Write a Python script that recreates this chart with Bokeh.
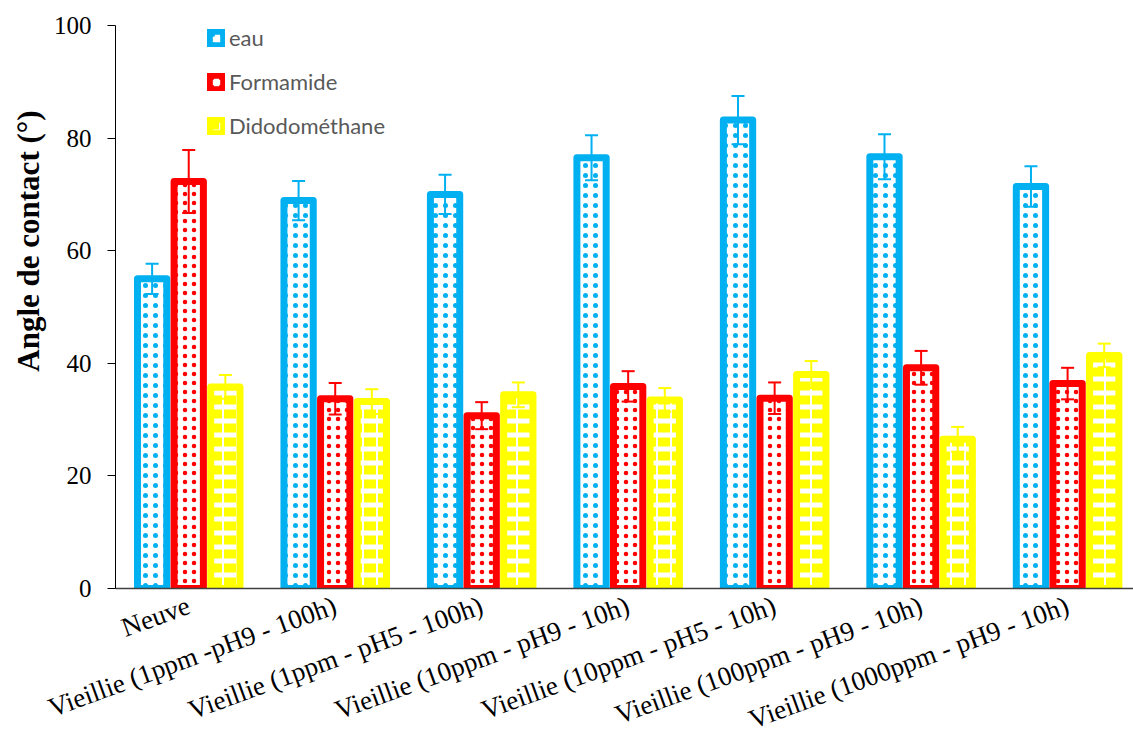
import numpy as np
from bokeh.plotting import figure
from bokeh.models import (ColumnDataSource, Range1d, FixedTicker, Whisker, TeeHead,
                          Legend, LegendItem, Title)
from bokeh.embed import file_html
from bokeh.resources import INLINE

categories = ["Neuve", "Vieillie (1ppm -pH9 - 100h)", "Vieillie (1ppm - pH5 - 100h)",
              "Vieillie (10ppm - pH9 - 10h)", "Vieillie (10ppm - pH5 - 10h)",
              "Vieillie (100ppm - pH9 - 10h)", "Vieillie (1000ppm - pH9 - 10h)"]
series_names = ["eau", "Formamide", "Didodométhane"]
eau = [55.0, 68.9, 70.0, 76.5, 83.2, 76.7, 71.4]
eau_err = [2.7, 3.5, 3.5, 4.0, 4.3, 4.0, 3.6]
formamide = [72.3, 33.7, 30.7, 35.9, 33.8, 39.2, 36.4]
formamide_err = [5.6, 2.8, 2.4, 2.7, 2.8, 3.0, 2.8]
diiodo = [35.8, 33.2, 34.4, 33.5, 38.0, 26.5, 41.4]
diiodo_err = [2.1, 2.2, 2.2, 2.1, 2.4, 2.2, 2.1]
y_ticks = [0, 20, 40, 60, 80, 100]

colors = ["#00B0F0", "#FF0000", "#FFFF00"]
values = [eau, formamide, diiodo]
errors = [eau_err, formamide_err, diiodo_err]
offsets = [-0.25, 0.0, 0.25]

p = figure(width=1133, height=751, output_backend="svg", toolbar_location=None,
           x_range=Range1d(-0.5, 6.45), y_range=Range1d(0, 100),
           min_border_left=115, min_border_right=0, min_border_top=25, min_border_bottom=161)
p.outline_line_color = None
p.xgrid.grid_line_color = None
p.ygrid.grid_line_color = None
p.background_fill_color = "white"

hatch_kw = [
    dict(hatch_pattern="dot", hatch_scale=10, hatch_weight=6),
    dict(hatch_pattern="dot", hatch_scale=9, hatch_weight=1.2),
    dict(hatch_pattern="horizontal_dash", hatch_scale=14, hatch_weight=9),
]

idx = np.arange(len(categories))
legend_items = []
for k in range(3):
    src = ColumnDataSource(dict(x=idx + offsets[k], top=values[k],
                                upper=np.array(values[k]) + np.array(errors[k]),
                                lower=np.array(values[k]) - np.array(errors[k])))
    r = p.vbar(x="x", top="top", bottom=0, width=0.2, source=src,
               fill_color="white", line_color=colors[k], line_width=7, line_join="round",
               hatch_color=colors[k], **hatch_kw[k])
    w = Whisker(source=src, base="x", upper="upper", lower="lower",
                line_color=colors[k], line_width=2, level="annotation",
                upper_head=TeeHead(size=13, line_color=colors[k], line_width=2),
                lower_head=TeeHead(size=13, line_color=colors[k], line_width=2))
    p.add_layout(w)
    legend_items.append(LegendItem(label=series_names[k], renderers=[r]))

legend = Legend(items=legend_items, location=(92, 449), orientation="vertical",
                glyph_width=18, glyph_height=18, label_height=27, spacing=17,
                label_standoff=4, padding=0, margin=0,
                label_text_font="Lato", label_text_font_size="22px",
                label_text_color="#595959",
                border_line_color=None, background_fill_alpha=0)
p.add_layout(legend, "center")

# axes
p.xaxis.ticker = FixedTicker(ticks=list(idx))
p.xaxis.major_label_overrides = {int(i): c for i, c in zip(idx, categories)}
p.xaxis.major_label_orientation = 0.35
p.xaxis.major_label_text_font = "Liberation Serif"
p.xaxis.major_label_text_font_size = "27px"
p.xaxis.major_label_text_color = "black"
p.xaxis.major_label_standoff = 10
p.xaxis.major_tick_line_color = None
p.xaxis.minor_tick_line_color = None
p.xaxis.axis_line_color = "#404040"
p.xaxis.axis_line_width = 1.5

p.yaxis.ticker = FixedTicker(ticks=y_ticks)
p.yaxis.major_label_text_font = "Liberation Serif"
p.yaxis.major_label_text_font_size = "25px"
p.yaxis.major_label_text_color = "black"
p.yaxis.major_tick_out = 8
p.yaxis.major_tick_in = 0
p.yaxis.major_label_standoff = 16
p.yaxis.minor_tick_line_color = None
p.yaxis.axis_line_color = "black"
p.yaxis.major_tick_line_color = "black"

ytitle = Title(text="Angle de contact (°)", align="right", offset=85,
               text_font="Liberation Serif", text_font_size="31px",
               text_font_style="bold", text_color="black")
p.add_layout(ytitle, "left")

open("out.html", "w").write(file_html(p, INLINE))
